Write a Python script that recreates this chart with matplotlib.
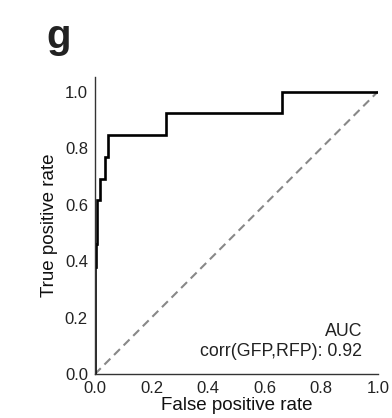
import matplotlib
matplotlib.use("Agg")
import matplotlib.pyplot as plt

plt.rcParams['font.family'] = ['Liberation Sans', 'DejaVu Sans']

fpr = [0, 0, 0.004, 0.004, 0.008, 0.008, 0.018, 0.018, 0.037, 0.037, 0.048, 0.048, 0.25, 0.25, 0.66, 0.66, 1.0]
tpr = [0, 0.38, 0.38, 0.46, 0.46, 0.615, 0.615, 0.692, 0.692, 0.769, 0.769, 0.846, 0.846, 0.923, 0.923, 1.0, 1.0]
chance = [0, 1]
ticks = [0.0, 0.2, 0.4, 0.6, 0.8, 1.0]
tick_labels = ["0.0", "0.2", "0.4", "0.6", "0.8", "1.0"]

fig = plt.figure(figsize=(3.92, 4.18), dpi=100)
ax = fig.add_axes([0.242, 0.105, 0.722, 0.711])

ax.plot(chance, chance, color='#888888', lw=1.5, ls=(0, (4, 2.5)))
ax.plot(fpr, tpr, color='black', lw=1.9, solid_joinstyle='miter')

ax.set_xlim(0, 1.0)
ax.set_ylim(0, 1.052)
ax.set_xticks(ticks)
ax.set_xticklabels(tick_labels)
ax.set_yticks(ticks)
ax.set_yticklabels(tick_labels)
ax.tick_params(length=0, labelsize=12, colors='#222222', pad=5)
for s in ['top', 'right']:
    ax.spines[s].set_visible(False)
for s in ['left', 'bottom']:
    ax.spines[s].set_color('#333333')
    ax.spines[s].set_linewidth(1.0)

ax.set_xlabel("False positive rate", fontsize=13.5, labelpad=1, color='#111111')
ax.set_ylabel("True positive rate", fontsize=13.5, labelpad=5, color='#111111')

ax.text(0.945, 0.134, "AUC", ha='right', va='baseline', fontsize=12.8, color='#222222')
ax.text(0.945, 0.064, "corr(GFP,RFP): 0.92", ha='right', va='baseline', fontsize=12.8, color='#222222')

fig.text(0.118, 0.885, "g", fontsize=29, fontweight='bold', color='#222222')

fig.savefig("out.png", dpi=100)
